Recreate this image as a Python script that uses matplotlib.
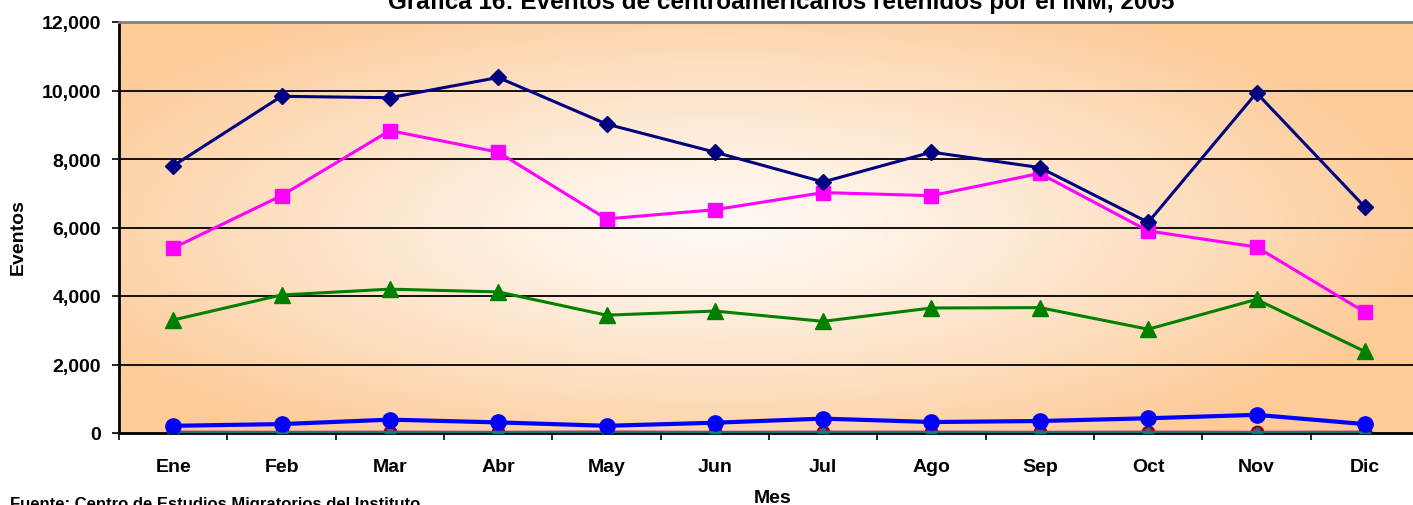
import numpy as np
import matplotlib
matplotlib.use("Agg")
import matplotlib.pyplot as plt
from matplotlib.colors import LinearSegmentedColormap

plt.rcParams['font.family'] = ['Liberation Sans', 'DejaVu Sans']
plt.rcParams['font.weight'] = 'bold'

months = ["Ene", "Feb", "Mar", "Abr", "May", "Jun", "Jul", "Ago", "Sep", "Oct", "Nov", "Dic"]
serie_navy = [7800, 9830, 9790, 10380, 9020, 8200, 7330, 8200, 7750, 6150, 9930, 6600]
serie_magenta = [5400, 6930, 8830, 8200, 6250, 6520, 7020, 6930, 7580, 5900, 5430, 3530]
serie_green = [3300, 4030, 4200, 4120, 3440, 3560, 3260, 3650, 3660, 3030, 3900, 2380]
serie_blue = [210, 260, 390, 310, 210, 300, 420, 320, 350, 430, 530, 260]
serie_maroon = [20, 15, 25, 20, 30, 15, 20, 25, 20, 20, 15, 20]
serie_purple = [40, 35, 40, 35, 45, 35, 40, 40, 35, 40, 35, 40]
serie_teal = [5, 5, 5, 5, 5, 5, 5, 5, 5, 5, 5, 5]
yticks = [0, 2000, 4000, 6000, 8000, 10000, 12000]

W, H = 1413, 506
fig = plt.figure(figsize=(W / 100, H / 100), dpi=100)
ax = fig.add_axes([119 / W, (H - 434) / H, 1300 / W, (434 - 23) / H])

# gradient background (light centre, orange edges)
nx, ny = 400, 200
u = np.linspace(0, 1, nx)
v = np.linspace(0, 1, ny)
U, V = np.meshgrid(u, v)
d = np.sqrt(((U - 0.46) / 0.56) ** 2 + ((V - 0.5) / 0.62) ** 2)
t = np.clip(d, 0, 1) ** 1.2
cmap = LinearSegmentedColormap.from_list("bg", ["#FFFAF5", "#FDCB98"])
ax.imshow(t, cmap=cmap, vmin=0, vmax=1, extent=[0, 1, 0, 1], transform=ax.transAxes,
          aspect='auto', zorder=0, interpolation='bilinear')

x = np.arange(len(months))
ax.set_xlim(-0.5, len(months) - 0.5)
ax.set_ylim(0, 12000)

for yv in yticks[1:-1]:
    ax.axhline(yv, color='#111111', lw=1.4, zorder=1)

ax.plot(x, serie_teal, color='#008080', lw=2, marker='+', ms=9, mew=2, zorder=3)
ax.plot(x, serie_maroon, color='#800000', lw=0, marker='o', ms=9, zorder=2.5)
ax.plot(x, serie_purple, color='#993399', lw=1.5, marker='x', ms=5, mew=1.5, zorder=2.6)
ax.plot(x, serie_blue, color='#0000FF', lw=3, marker='o', ms=11, zorder=4)
ax.plot(x, serie_green, color='#008000', lw=2.2, marker='^', ms=11.5, zorder=4)
ax.plot(x, serie_magenta, color='#FF00FF', lw=2.2, marker='s', ms=10, zorder=4)
ax.plot(x, serie_navy, color='#000080', lw=2.2, marker='D', ms=8.5, zorder=4)

ax.set_yticks(yticks)
ax.set_yticklabels([f"{v:,}" for v in yticks], fontsize=14, fontweight='bold')
ax.set_xticks(x)
ax.set_xticklabels(months, fontsize=14, fontweight='bold')
ax.set_xticks(np.arange(-0.5, len(months)), minor=True)
ax.tick_params(axis='x', which='major', length=0, pad=18)
ax.tick_params(axis='x', which='minor', length=5, width=1.2, color='black')
ax.tick_params(axis='y', which='major', length=5, width=1.2, color='black', pad=8)

for s in ['left', 'bottom']:
    ax.spines[s].set_color('black')
    ax.spines[s].set_linewidth(2)
ax.spines['top'].set_color('#808080')
ax.spines['top'].set_linewidth(2)
ax.spines['right'].set_visible(False)

fig.text(781 / W, 1 - 9 / H, "Gráfica 16: Eventos de centroamericanos retenidos por el INM, 2005",
         ha='center', va='baseline', fontsize=17.5, fontweight='bold')
fig.text(18 / W, 1 - 237 / H, "Eventos", rotation=90, ha='center', va='center',
         fontsize=14, fontweight='bold')
fig.text(773 / W, 1 - 499 / H, "Mes", ha='center', va='center', fontsize=14, fontweight='bold')
fig.text(10 / W, 1 - 509 / H, "Fuente: Centro de Estudios Migratorios del Instituto",
         ha='left', va='baseline', fontsize=12, fontweight='bold')

fig.savefig("out.png", dpi=100)
